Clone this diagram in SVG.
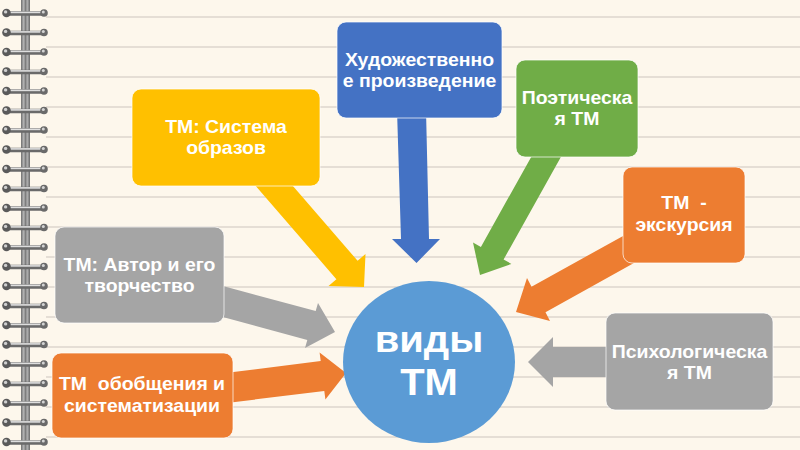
<svg xmlns="http://www.w3.org/2000/svg" xmlns:xlink="http://www.w3.org/1999/xlink" width="800" height="450" viewBox="0 0 800 450">
<defs>
<style>
.lbl{font-family:"Liberation Sans",Arial,sans-serif;font-weight:bold;font-size:18px;fill:#ffffff;text-anchor:middle;white-space:pre}
.big{font-size:37px}
.box{stroke:#ffffff;stroke-opacity:0.7;stroke-width:1}
.rule{stroke:#ddd6ce;stroke-width:1.5}
</style>
<linearGradient id="spineG" x1="0" y1="0" x2="1" y2="0">
<stop offset="0" stop-color="#6f6f6f"/>
<stop offset="0.3" stop-color="#b5b5b5"/>
<stop offset="0.5" stop-color="#7d7d7d"/>
<stop offset="0.7" stop-color="#b0b0b0"/>
<stop offset="1" stop-color="#6a6a6a"/>
</linearGradient>
<g id="ring">
<line x1="6" y1="0.5" x2="44" y2="0.5" stroke="#6a6a6a" stroke-width="4.5" stroke-linecap="round"/>
<line x1="9" y1="-0.6" x2="41" y2="-0.6" stroke="#dedede" stroke-width="1.6"/>
<circle cx="6.5" cy="0" r="4.3" fill="#5a5a5a"/>
<circle cx="5.6" cy="-1.1" r="1.7" fill="#d0d0d0"/>
<circle cx="44" cy="0" r="3.8" fill="#6a6a6a"/>
<circle cx="43.3" cy="-1" r="1.5" fill="#d4d4d4"/>
</g>
</defs>
<rect width="800" height="450" fill="#fdf7ec"/>
<g id="rules">
<line class="rule" x1="46" y1="17" x2="800" y2="17"/>
<line class="rule" x1="46" y1="47" x2="800" y2="47"/>
<line class="rule" x1="46" y1="77" x2="800" y2="77"/>
<line class="rule" x1="46" y1="107" x2="800" y2="107"/>
<line class="rule" x1="46" y1="137" x2="800" y2="137"/>
<line class="rule" x1="46" y1="167" x2="800" y2="167"/>
<line class="rule" x1="46" y1="197" x2="800" y2="197"/>
<line class="rule" x1="46" y1="227" x2="800" y2="227"/>
<line class="rule" x1="46" y1="257" x2="800" y2="257"/>
<line class="rule" x1="46" y1="287" x2="800" y2="287"/>
<line class="rule" x1="46" y1="317" x2="800" y2="317"/>
<line class="rule" x1="46" y1="347" x2="800" y2="347"/>
<line class="rule" x1="46" y1="377" x2="800" y2="377"/>
<line class="rule" x1="46" y1="407" x2="800" y2="407"/>
<line class="rule" x1="46" y1="437" x2="800" y2="437"/>
</g>
<g id="binding">
<rect x="21" y="0" width="9" height="450" fill="url(#spineG)"/>
<use xlink:href="#ring" y="13"/>
<use xlink:href="#ring" y="32.5"/>
<use xlink:href="#ring" y="52"/>
<use xlink:href="#ring" y="71.5"/>
<use xlink:href="#ring" y="91"/>
<use xlink:href="#ring" y="110.5"/>
<use xlink:href="#ring" y="130"/>
<use xlink:href="#ring" y="149.5"/>
<use xlink:href="#ring" y="169"/>
<use xlink:href="#ring" y="188.5"/>
<use xlink:href="#ring" y="208"/>
<use xlink:href="#ring" y="227.5"/>
<use xlink:href="#ring" y="247"/>
<use xlink:href="#ring" y="266.5"/>
<use xlink:href="#ring" y="286"/>
<use xlink:href="#ring" y="305.5"/>
<use xlink:href="#ring" y="325"/>
<use xlink:href="#ring" y="344.5"/>
<use xlink:href="#ring" y="364"/>
<use xlink:href="#ring" y="383.5"/>
<use xlink:href="#ring" y="403"/>
<use xlink:href="#ring" y="422.5"/>
<use xlink:href="#ring" y="442"/>
</g>
<g id="connectors">
<polygon fill="#4472c4" points="397,110 426,110 429,239 440,239 416.5,263 392,239 401,239"/>
<polygon fill="#70ad47" points="544.2,133.7 566.9,146.3 503.6,259.5 511.4,263.9 480,275 473,242.5 480.9,246.9"/>
<polygon fill="#ffc000" points="272.6,162.5 357.6,260.8 365.5,254 364,287 328.5,286 336.4,279.2 251.4,180.9"/>
<polygon fill="#a5a5a5" points="219.2,285 315.7,311.1 318,303 335,332 305,348 307.3,339.9 210.8,313.8"/>
<polygon fill="#ed7d31" points="223.2,373.2 320.7,361.1 319.6,352.6 346,373 325.4,399.4 324.3,390.9 226.8,403"/>
<polygon fill="#ed7d31" points="633,230.4 531.5,286.8 527,278 516,312 550,321 545.5,312.2 647,255.8"/>
<polygon fill="#a5a5a5" points="615,347 553,347 553,337 528,362 553,387 553,377 615,377"/>
</g>
<g id="node-center">
<ellipse cx="429" cy="362" rx="86" ry="81" fill="#5b9bd5"/>
<g transform="translate(429,0) scale(1.08,1)">
<text class="lbl big" x="0" y="352">виды</text>
<text class="lbl big" x="0" y="395">ТМ</text>
</g>
</g>
<g id="node-art">
<rect class="box" x="337" y="22" width="165" height="96" rx="9" fill="#4472c4"/>
<g transform="translate(419.5,0) scale(1.08,1)">
<text class="lbl" x="0" y="66">Художественно</text>
<text class="lbl" x="0" y="87">е произведение</text>
</g>
</g>
<g id="node-poetic">
<rect class="box" x="516" y="60" width="122" height="97" rx="9" fill="#70ad47"/>
<g transform="translate(577,0) scale(1.08,1)">
<text class="lbl" x="0" y="104.5">Поэтическа</text>
<text class="lbl" x="0" y="125.5">я ТМ</text>
</g>
</g>
<g id="node-images">
<rect class="box" x="132" y="89" width="188" height="97" rx="9" fill="#ffc000"/>
<g transform="translate(226,0) scale(1.08,1)">
<text class="lbl" x="0" y="133">ТМ: Система</text>
<text class="lbl" x="0" y="154.5">образов</text>
</g>
</g>
<g id="node-author">
<rect class="box" x="55" y="227" width="169" height="96" rx="9" fill="#a5a5a5"/>
<g transform="translate(139.5,0) scale(1.08,1)">
<text class="lbl" x="0" y="271.5">ТМ: Автор и его</text>
<text class="lbl" x="0" y="292.5">творчество</text>
</g>
</g>
<g id="node-generalization">
<rect class="box" x="52" y="353" width="181" height="85" rx="9" fill="#ed7d31"/>
<g transform="translate(142,0) scale(1.08,1)">
<text class="lbl" x="0" y="390">ТМ  обобщения и</text>
<text class="lbl" x="0" y="412">систематизации</text>
</g>
</g>
<g id="node-excursion">
<rect class="box" x="623" y="167" width="122" height="96" rx="9" fill="#ed7d31"/>
<g transform="translate(684,0) scale(1.08,1)">
<text class="lbl" x="0" y="209.5">ТМ  -</text>
<text class="lbl" x="0" y="231">экскурсия</text>
</g>
</g>
<g id="node-psych">
<rect class="box" x="606" y="313" width="167" height="97" rx="9" fill="#a5a5a5"/>
<g transform="translate(689.5,0) scale(1.08,1)">
<text class="lbl" x="0" y="358">Психологическа</text>
<text class="lbl" x="0" y="379.5">я ТМ</text>
</g>
</g>
</svg>
